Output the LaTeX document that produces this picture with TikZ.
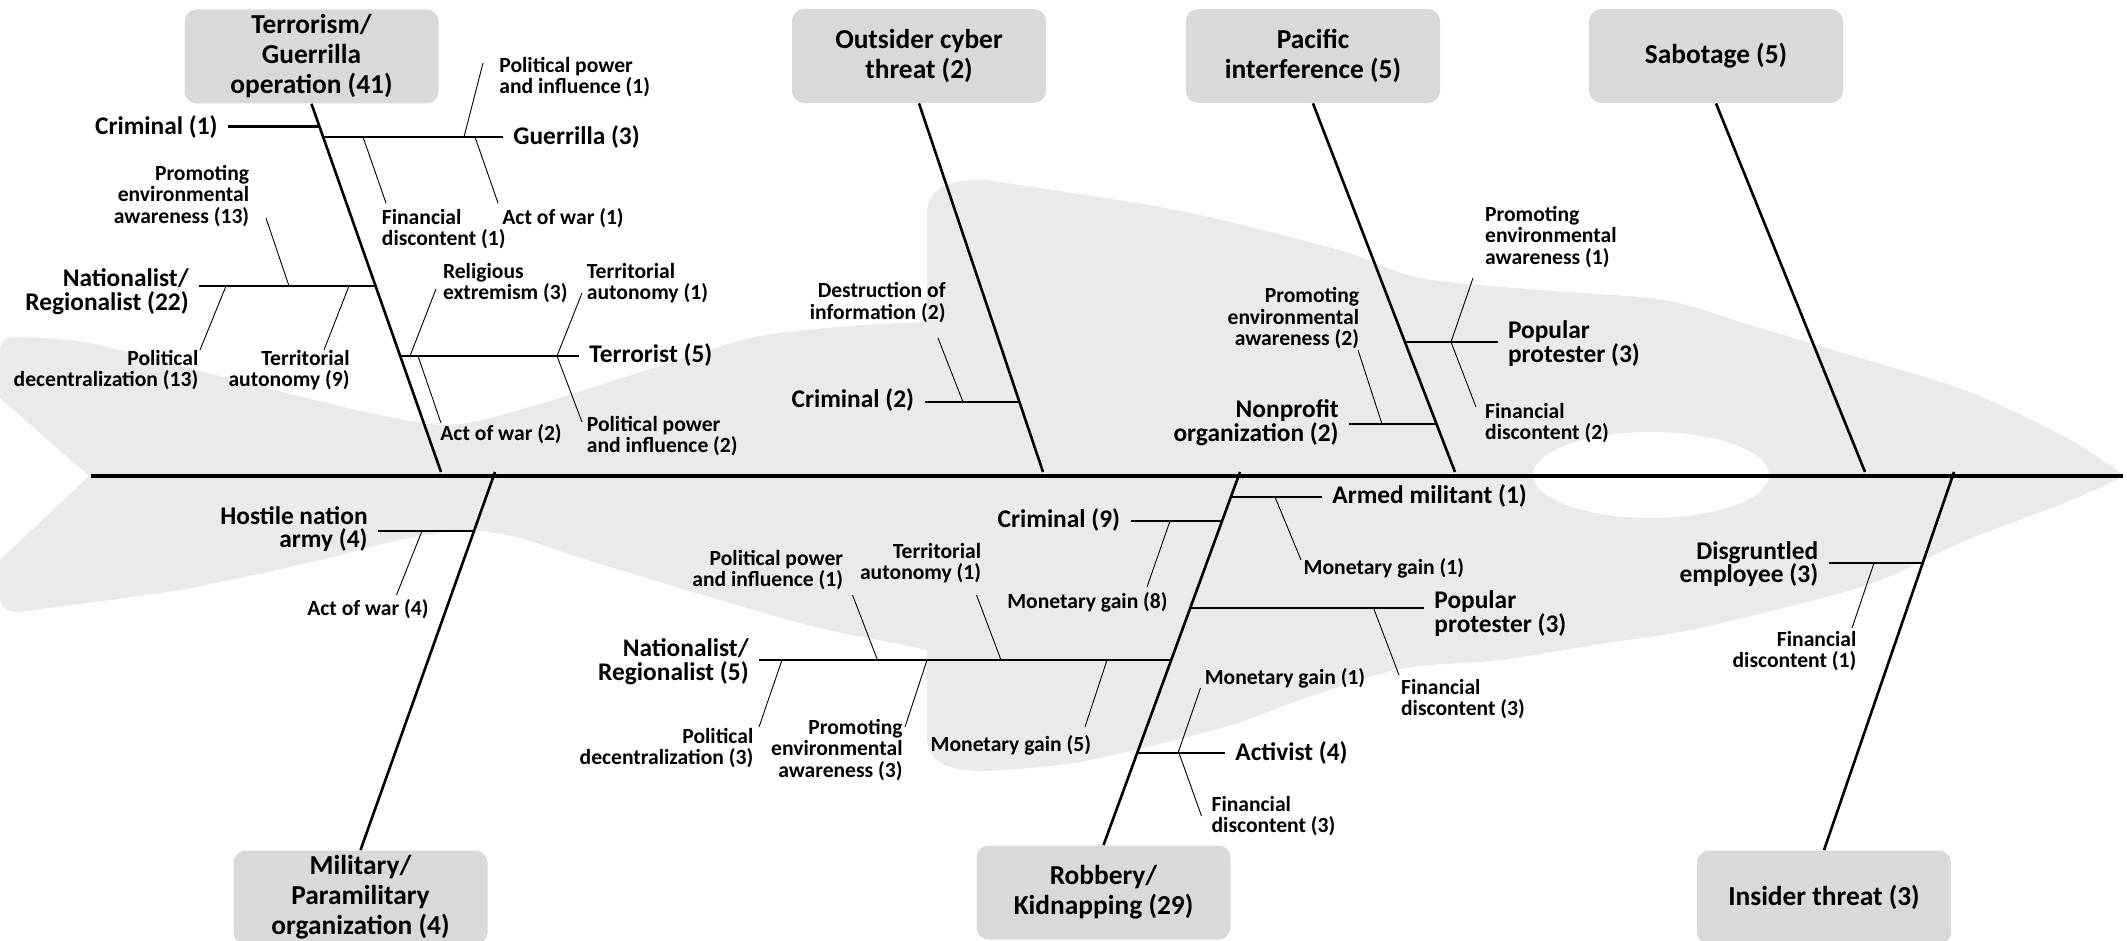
\documentclass[tikz,border=0pt]{standalone}
\usepackage{fontspec}
\setmainfont{Carlito}

\definecolor{boxgray}{HTML}{D9D9D9}
\definecolor{fishgray}{HTML}{EAEAEA}

\newcommand{\catfont}{\fontsize{13.7}{15}\selectfont\bfseries}
\newcommand{\causefont}{\fontsize{12.7}{11.8}\selectfont\bfseries\lineskiplimit=-20pt}
\newcommand{\subfont}{\fontsize{10.8}{10.7}\selectfont\bfseries\lineskiplimit=-20pt}

\begin{document}
\begin{tikzpicture}[x=0.5pt, y=-0.5pt,
    cat/.style={rounded corners=6pt, fill=boxgray, minimum width=127pt, minimum height=47pt,
      align=center, inner sep=0pt, font=\catfont},
    causeL/.style={anchor=east, align=right, inner sep=0pt, font=\causefont},
    causeR/.style={anchor=west, align=left, inner sep=0pt, font=\causefont},
    subL/.style={anchor=east, align=right, inner sep=0pt, font=\subfont},
    subR/.style={anchor=west, align=left, inner sep=0pt, font=\subfont},
    spine/.style={line width=1.6pt},
    bone/.style={line width=1.3pt},
    branch/.style={line width=1.3pt, shorten >=5pt},
    lead/.style={line width=0.45pt}]
\useasboundingbox (0,0) rectangle (2127,941);

% fish in the background
\fill[fishgray] (89,476) -- (0,398) -- (0,350) .. controls (0,341) and (6,337) .. (15,337)
  -- plot[smooth] coordinates {(15,337) (89,343) (223,377) (357,410) (450,425) (536,405)
     (625,377) (700,353) (760,336) (850,326) (927,322)}
  -- (927,215) .. controls (927,190) and (945,179) .. (985,180)
  -- plot[smooth] coordinates {(985,180) (1176,210) (1339,250) (1420,278) (1540,290)
     (1664,300) (1750,325) (1833,350) (1967,391) (2067,438) (2125,476)}
  -- plot[smooth] coordinates {(2125,476) (2067,502) (1967,540) (1864,586) (1700,628)
     (1600,644) (1500,660) (1400,669) (1300,700) (1225,727) (1080,762) (985,771)}
  .. controls (945,771) and (927,762) .. (927,735)
  -- plot[smooth] coordinates {(927,650) (894,643) (815,627) (696,593) (578,557) (520,538)
     (465,530) (400,540) (312,562) (179,590) (18,612)}
  .. controls (6,612) and (0,606) .. (0,597) -- (0,560) -- cycle;
\fill[white] (1651,475) ellipse [x radius=59pt, y radius=21.5pt];

% categories
\node[cat] (terror) at (311.5,56.5) {Terrorism/\\Guerrilla\\operation (41)};
\node[cat] (cyber) at (919,56) {Outsider cyber\\threat (2)};
\node[cat] (pacific) at (1313,56) {Pacific\\interference (5)};
\node[cat] (sabot) at (1716,56) {Sabotage (5)};
\node[cat] (milit) at (360.5,897.5) {Military/\\Paramilitary\\organization (4)};
\node[cat] (robbery) at (1103.5,892.5) {Robbery/\\Kidnapping (29)};
\node[cat] (insider) at (1824,897.5) {Insider threat (3)};

% spine and bones
\coordinate (tail) at (91,476);
\coordinate (head) at (2123,476);
\coordinate (terror-end) at (441,472);
\coordinate (cyber-end) at (1043,472);
\coordinate (pacific-end) at (1455,472);
\coordinate (sabot-end) at (1865,472);
\coordinate (milit-end) at (495,472);
\coordinate (robbery-end) at (1240,472);
\coordinate (insider-end) at (1954,472);
\draw[spine] (tail) -- (head);
\draw[bone] (terror.south) -- (terror-end);
\draw[bone] (cyber.south) -- (cyber-end);
\draw[bone] (pacific.south) -- (pacific-end);
\draw[bone] (sabot.south) -- (sabot-end);
\draw[bone] (milit-end) -- (milit.north);
\draw[bone] (robbery-end) -- (robbery.north);
\draw[bone] (insider-end) -- (insider.north);

% causes
\node[causeL] (crim1) at (218,127) {Criminal (1)};
\node[causeR] (guer3) at (513,137) {Guerrilla (3)};
\node[causeL] (nat22) at (189,291.5) {Nationalist/\\Regionalist (22)};
\node[causeR] (terr5) at (589,355) {Terrorist (5)};
\node[causeL] (crim2) at (914.5,400) {Criminal (2)};
\node[causeR] (pop3a) at (1507.6,343.5) {Popular\\protester (3)};
\node[causeL] (nonp2) at (1339,422.5) {Nonprofit\\organization (2)};
\node[causeL] (host4) at (368,529) {Hostile nation\\army (4)};
\node[causeR] (armed1) at (1332,496) {Armed militant (1)};
\node[causeL] (crim9) at (1120.5,520) {Criminal (9)};
\node[causeR] (pop3b) at (1434,613.5) {Popular\\protester (3)};
\node[causeL] (nat5) at (749,661.5) {Nationalist/\\Regionalist (5)};
\node[causeR] (act4) at (1235,753) {Activist (4)};
\node[causeL] (disg3) at (1818.6,564) {Disgruntled\\employee (3)};

\coordinate (j-crim1) at (319.6,126.5);
\coordinate (j-guer3) at (323.2,137);
\coordinate (j-nat22) at (375.6,286);
\coordinate (j-terr5) at (400.2,356);
\coordinate (j-crim2) at (1019.5,402);
\coordinate (j-pop3a) at (1405,342);
\coordinate (j-nonp2) at (1436.5,424);
\coordinate (j-host4) at (474,531);
\coordinate (j-armed1) at (1230.9,497);
\coordinate (j-crim9) at (1222.1,521);
\coordinate (j-pop3b) at (1190.3,608);
\coordinate (j-nat5) at (1171.3,660);
\coordinate (j-act4) at (1137.3,753);
\coordinate (j-disg3) at (1922.7,563);

\draw[branch] (j-crim1) -- (j-crim1 -| crim1.east);
\draw[branch] (j-guer3) -- (j-guer3 -| guer3.west);
\draw[branch] (j-nat22) -- (j-nat22 -| nat22.east);
\draw[branch] (j-terr5) -- (j-terr5 -| terr5.west);
\draw[branch] (j-crim2) -- (j-crim2 -| crim2.east);
\draw[branch] (j-pop3a) -- (j-pop3a -| pop3a.west);
\draw[branch] (j-nonp2) -- (j-nonp2 -| nonp2.east);
\draw[branch] (j-host4) -- (j-host4 -| host4.east);
\draw[branch] (j-armed1) -- (j-armed1 -| armed1.west);
\draw[branch] (j-crim9) -- (j-crim9 -| crim9.east);
\draw[branch] (j-pop3b) -- (j-pop3b -| pop3b.west);
\draw[branch] (j-nat5) -- (j-nat5 -| nat5.east);
\draw[branch] (j-act4) -- (j-act4 -| act4.west);
\draw[branch] (j-disg3) -- (j-disg3 -| disg3.east);

% sub causes
\node[subR] (pp1) at (499,77) {Political power\\and influence (1)};
\node[subR] (aw1) at (502,218) {Act of war (1)};
\node[subR] (fd1) at (381.5,229) {Financial\\discontent (1)};
\node[subL] (pe13) at (249.6,196) {Promoting\\environmental\\awareness (13)};
\node[subL] (pd13) at (198.7,370) {Political\\decentralization (13)};
\node[subL] (ta9) at (350,370) {Territorial\\autonomy (9)};
\node[subR] (re3) at (442.6,283) {Religious\\extremism (3)};
\node[subR] (ta1) at (586.5,283) {Territorial\\autonomy (1)};
\node[subR] (pp2) at (586.5,436) {Political power\\and influence (2)};
\node[subR] (aw2) at (440,434) {Act of war (2)};
\node[subL] (di2) at (946,302.5) {Destruction of\\information (2)};
\node[subR] (pe1) at (1484.8,236.7) {Promoting\\environmental\\awareness (1)};
\node[subR] (fd2) at (1484.8,422.8) {Financial\\discontent (2)};
\node[subL] (pe2) at (1359.5,318.3) {Promoting\\environmental\\awareness (2)};
\node[subL] (aw4) at (429,609.3) {Act of war (4)};
\node[subR] (mg1) at (1303.3,568.3) {Monetary gain (1)};
\node[subL] (mg8) at (1168,602.7) {Monetary gain (8)};
\node[subR] (fd3) at (1400.7,698.8) {Financial\\discontent (3)};
\node[subL] (pp1b) at (843.5,570) {Political power\\and influence (1)};
\node[subL] (ta1b) at (981.5,563) {Territorial\\autonomy (1)};
\node[subL] (pd3) at (753.7,748) {Political\\decentralization (3)};
\node[subL] (pe3) at (903,750) {Promoting\\environmental\\awareness (3)};
\node[subL] (mg5) at (1091.4,745) {Monetary gain (5)};
\node[subR] (mg1b) at (1204.4,678.3) {Monetary gain (1)};
\node[subR] (fd3b) at (1211.2,816.2) {Financial\\discontent (3)};
\node[subL] (fd1b) at (1856.7,650.8) {Financial\\discontent (1)};

% leader lines: k = on the branch, e = by the label
\coordinate (k-pp1) at (464,137);    \coordinate (e-pp1) at (483,63);
\coordinate (k-aw1) at (475,137);    \coordinate (e-aw1) at (498,203);
\coordinate (k-fd1) at (363,137);    \coordinate (e-fd1) at (386,203);
\coordinate (k-pe13) at (289,286);   \coordinate (e-pe13) at (266,218);
\coordinate (k-pd13) at (226,286);   \coordinate (e-pd13) at (200,350);
\coordinate (k-ta9) at (349,286);    \coordinate (e-ta9) at (324,350);
\coordinate (k-re3) at (410,356);    \coordinate (e-re3) at (436,289);
\coordinate (k-ta1) at (557,356);    \coordinate (e-ta1) at (582,293);
\coordinate (k-pp2) at (557,356);    \coordinate (e-pp2) at (582,422);
\coordinate (k-aw2) at (418,356);    \coordinate (e-aw2) at (441,423);
\coordinate (k-di2) at (963,402);    \coordinate (e-di2) at (938,338);
\coordinate (k-pe1) at (1451,342);   \coordinate (e-pe1) at (1473,278);
\coordinate (k-fd2) at (1451,342);   \coordinate (e-fd2) at (1476,407);
\coordinate (k-pe2) at (1382,424);   \coordinate (e-pe2) at (1358,350);
\coordinate (k-aw4) at (422,531);    \coordinate (e-aw4) at (396.5,595);
\coordinate (k-mg1) at (1275,497);   \coordinate (e-mg1) at (1301,560);
\coordinate (k-mg8) at (1170,521);   \coordinate (e-mg8) at (1147,587);
\coordinate (k-fd3) at (1373.5,608); \coordinate (e-fd3) at (1399,675);
\coordinate (k-pp1b) at (877.5,660); \coordinate (e-pp1b) at (852.5,595);
\coordinate (k-ta1b) at (1001,660);  \coordinate (e-ta1b) at (976.5,595);
\coordinate (k-pd3) at (782,660);    \coordinate (e-pd3) at (759,727);
\coordinate (k-pe3) at (927,660);    \coordinate (e-pe3) at (905,727);
\coordinate (k-mg5) at (1107,660);   \coordinate (e-mg5) at (1085,727);
\coordinate (k-mg1b) at (1178,753);  \coordinate (e-mg1b) at (1200.5,688);
\coordinate (k-fd3b) at (1179,753);  \coordinate (e-fd3b) at (1201.5,816);
\coordinate (k-fd1b) at (1874,563);  \coordinate (e-fd1b) at (1852,628);

\draw[lead] (k-pp1) -- (e-pp1);
\draw[lead] (k-aw1) -- (e-aw1);
\draw[lead] (k-fd1) -- (e-fd1);
\draw[lead] (k-pe13) -- (e-pe13);
\draw[lead] (k-pd13) -- (e-pd13);
\draw[lead] (k-ta9) -- (e-ta9);
\draw[lead] (k-re3) -- (e-re3);
\draw[lead] (k-ta1) -- (e-ta1);
\draw[lead] (k-pp2) -- (e-pp2);
\draw[lead] (k-aw2) -- (e-aw2);
\draw[lead] (k-di2) -- (e-di2);
\draw[lead] (k-pe1) -- (e-pe1);
\draw[lead] (k-fd2) -- (e-fd2);
\draw[lead] (k-pe2) -- (e-pe2);
\draw[lead] (k-aw4) -- (e-aw4);
\draw[lead] (k-mg1) -- (e-mg1);
\draw[lead] (k-mg8) -- (e-mg8);
\draw[lead] (k-fd3) -- (e-fd3);
\draw[lead] (k-pp1b) -- (e-pp1b);
\draw[lead] (k-ta1b) -- (e-ta1b);
\draw[lead] (k-pd3) -- (e-pd3);
\draw[lead] (k-pe3) -- (e-pe3);
\draw[lead] (k-mg5) -- (e-mg5);
\draw[lead] (k-mg1b) -- (e-mg1b);
\draw[lead] (k-fd3b) -- (e-fd3b);
\draw[lead] (k-fd1b) -- (e-fd1b);
\end{tikzpicture}
\end{document}
